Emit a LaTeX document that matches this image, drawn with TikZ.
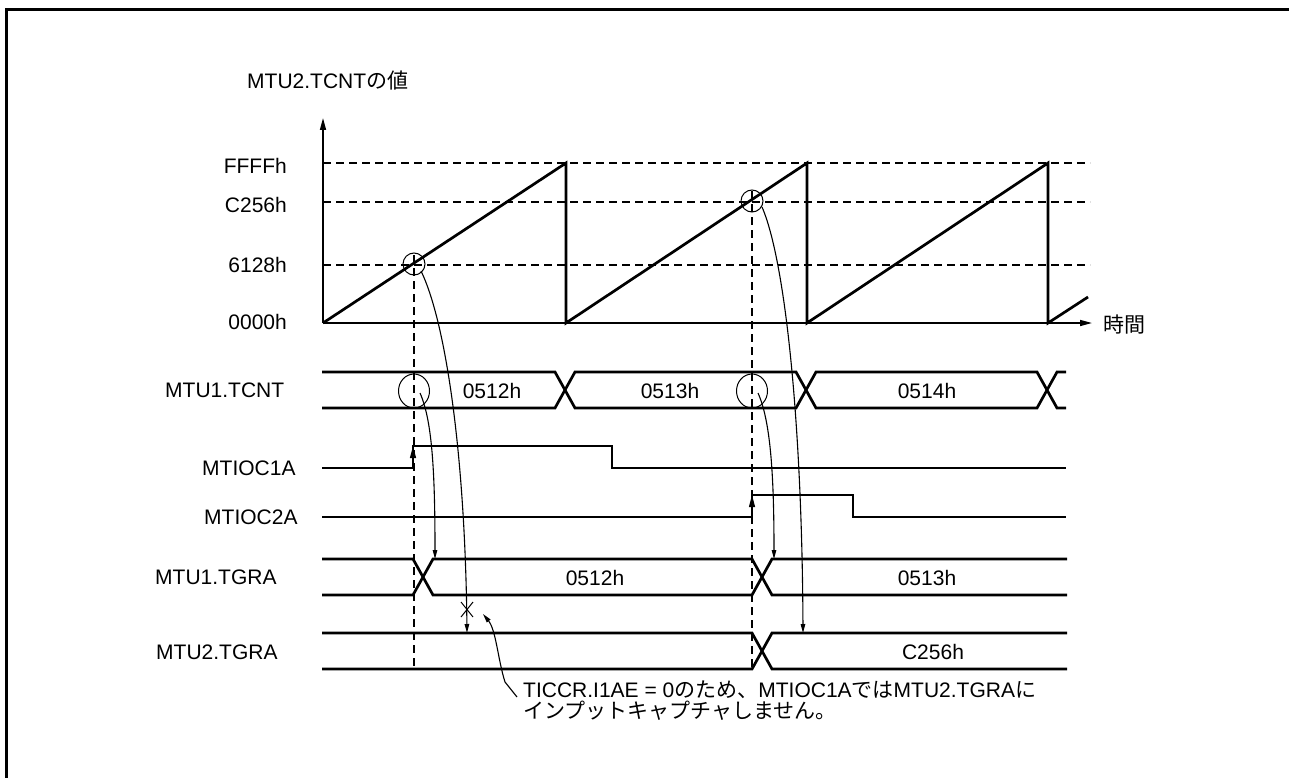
\documentclass[tikz,border=0pt]{standalone}
\usepackage{fontspec}
\setmainfont{Liberation Sans}
\newfontfamily\jp{Noto Sans CJK JP}
\usetikzlibrary{arrows.meta}
\tikzset{
  lbl/.style={font=\fontsize{21}{21}\selectfont, inner sep=0pt, text height=15pt, text depth=0pt},
  sig/.style={line width=2.7pt},
  axisline/.style={line width=1.5pt, -{Triangle[length=12pt,width=6pt]}},
  gridline/.style={line width=1.1pt, dash pattern=on 8pt off 5pt},
  thinmark/.style={line width=1pt},
  capture/.style={line width=1.1pt, -{Triangle[length=9pt,width=4.5pt]}},
}
\begin{document}
\begin{tikzpicture}[x=1pt,y=-1pt]
\useasboundingbox (0,0) rectangle (1289,778);
% frame
\draw[line width=3pt] (6,778) -- (6,10) -- (1289,10);

% axes
\coordinate (O) at (323,323);
\coordinate (ytop) at (323,118);
\coordinate (xend) at (1092,323);
\draw[axisline] (O) -- (ytop);
\draw[axisline] (O) -- (xend);
\node[lbl, anchor=west] (ytitle) at (247,81) {MTU2.TCNT{\jp の値}};
\node[lbl, anchor=west] (xtitle) at (1103,325) {\jp 時間};

% level lines
\draw[gridline] (323,163) -- (1090,163);
\draw[gridline] (323,202) -- (1090,202);
\draw[gridline] (323,265) -- (1090,265);
\node[lbl, anchor=east] (lF) at (287,166) {FFFFh};
\node[lbl, anchor=east] (lC) at (287,205) {C256h};
\node[lbl, anchor=east] (l6) at (287,265) {6128h};
\node[lbl, anchor=east] (l0) at (287,322) {0000h};

% sawtooth
\draw[sig] (323,323) -- (566,163) -- (566,323) -- (807,163) -- (807,323) -- (1048,163) -- (1048,323) -- (1088,297);

% vertical dashed markers
\draw[gridline] (414,255) -- (414,669);
\draw[gridline] (752,191) -- (752,669);

% circles on ramp
\draw[thinmark] (414,264) circle[radius=11];
\draw[thinmark] (752,201) circle[radius=11];

% signal labels
\node[lbl, anchor=west] (s1) at (165,390) {MTU1.TCNT};
\node[lbl, anchor=west] (s2) at (202,468) {MTIOC1A};
\node[lbl, anchor=west] (s3) at (204,517) {MTIOC2A};
\node[lbl, anchor=west] (s4) at (155,577) {MTU1.TGRA};
\node[lbl, anchor=west] (s5) at (156,652) {MTU2.TGRA};

% MTU1.TCNT bus
\draw[sig] (322,372) -- (555,372) -- (575,408) -- (796,408) -- (816,372) -- (1037,372) -- (1057,408) -- (1066,408);
\draw[sig] (322,408) -- (555,408) -- (575,372) -- (796,372) -- (816,408) -- (1037,408) -- (1057,372) -- (1066,372);
\node[lbl] (v1) at (492,391) {0512h};
\node[lbl] (v2) at (670,391) {0513h};
\node[lbl] (v3) at (927,391) {0514h};
\draw[thinmark] (414,391) ellipse[x radius=15.5, y radius=17];
\draw[thinmark] (752,391) ellipse[x radius=15.5, y radius=17];

% MTIOC1A
\draw[sig] (322,468) -- (413,468) -- (413,446) -- (612,446) -- (612,468) -- (1066,468);
\draw[line width=1pt, -{Triangle[length=12pt,width=6pt]}] (413,468) -- (413,446);
% MTIOC2A
\draw[sig] (322,517) -- (752,517) -- (752,495) -- (853,495) -- (853,517) -- (1066,517);
\draw[line width=1pt, -{Triangle[length=12pt,width=6pt]}] (752,517) -- (752,495);

% MTU1.TGRA bus
\draw[sig] (322,559) -- (413,559) -- (433,595) -- (752,595) -- (772,559) -- (1067,559);
\draw[sig] (322,595) -- (413,595) -- (433,559) -- (752,559) -- (772,595) -- (1067,595);
\node[lbl] (v4) at (595,578) {0512h};
\node[lbl] (v5) at (927,578) {0513h};

% MTU2.TGRA bus
\draw[sig] (322,633) -- (752,633) -- (772,669) -- (1067,669);
\draw[sig] (322,669) -- (752,669) -- (772,633) -- (1067,633);
\node[lbl] (v6) at (933,652) {C256h};

% capture arrows
\coordinate (c1s) at (421,271);
\coordinate (c1e) at (467,633);
\coordinate (c2s) at (762,207);
\coordinate (c2e) at (803,633);
\coordinate (c3s) at (420,393);
\coordinate (c3e) at (435,559);
\coordinate (c4s) at (758,393);
\coordinate (c4e) at (774,559);
\draw[capture] (c1s) .. controls (445,320) and (465,450) .. (c1e);
\draw[capture] (c2s) .. controls (785,260) and (802,420) .. (c2e);
\draw[capture] (c3s) .. controls (432,420) and (435,470) .. (c3e);
\draw[capture] (c4s) .. controls (770,420) and (774,470) .. (c4e);

% blocked mark
\draw[thinmark] (461,602) -- (473,617);
\draw[thinmark] (473,602) -- (461,617);

% annotation
\node[lbl, anchor=west] (n1) at (523,690) {TICCR.I1AE = 0{\jp のため、}MTIOC1A{\jp では}MTU2.TGRA{\jp に}};
\node[lbl, anchor=west] (n2) at (523,711) {\jp インプットキャプチャしません。};
\coordinate (a0) at (517,697);
\coordinate (a1) at (505,682);
\coordinate (a2) at (483,614);
\draw[capture] (a0) -- (a1) .. controls (498,660) and (496,630) .. (a2);
\end{tikzpicture}
\end{document}
